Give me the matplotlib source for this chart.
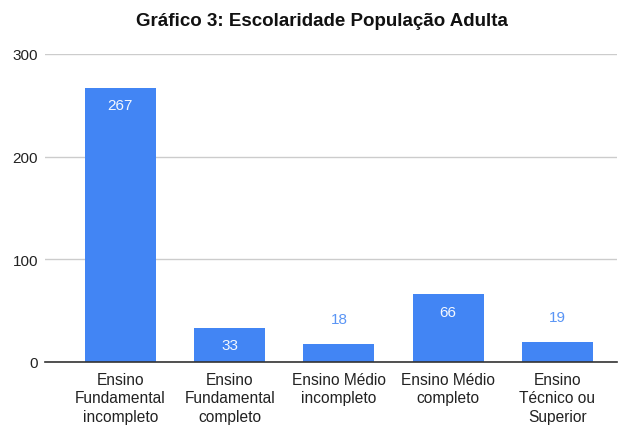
import matplotlib.pyplot as plt
import numpy as np

plt.rcParams['font.family'] = ['Liberation Sans', 'DejaVu Sans']

categorias = ['Ensino\nFundamental\nincompleto', 'Ensino\nFundamental\ncompleto',
              'Ensino Médio\nincompleto', 'Ensino Médio\ncompleto',
              'Ensino\nTécnico ou\nSuperior']
valores = [267, 33, 18, 66, 19]
yticks = [0, 100, 200, 300]

azul = '#4285f4'

fig = plt.figure(figsize=(6.18, 4.27), dpi=100)
ax = fig.add_axes([45 / 618, 1 - 363 / 427, 572 / 618, 308 / 427])

xs = np.arange(len(valores))
bars = ax.bar(xs, valores, 0.65, color=azul, zorder=3)

# rotulos: dentro da barra quando cabe, senao em cima
for b, v in zip(bars, valores):
    cx = b.get_x() + b.get_width() / 2
    if v >= 30:
        ax.annotate(str(v), (cx, v), xytext=(0, -12.5), textcoords='offset points',
                    ha='center', va='center', color='#f4f8fe', fontsize=11, zorder=4)
    else:
        ax.annotate(str(v), (cx, v), xytext=(0, 18), textcoords='offset points',
                    ha='center', va='center', color='#5a95f5', fontsize=11, zorder=4)

ax.set_xlim(-0.69, 4.545)
ax.set_ylim(0, 300)
ax.set_yticks(yticks)
ax.set_yticklabels([str(t) for t in yticks], color='#222222', fontsize=11)
ax.set_xticks(xs)
ax.set_xticklabels(categorias, color='#222222', fontsize=11.2, linespacing=1.3)
ax.tick_params(length=0)
ax.tick_params(axis='x', pad=7)
ax.tick_params(axis='y', pad=5)

ax.grid(axis='y', color='#cccccc', linewidth=1, zorder=0)
for s in ['top', 'right', 'left']:
    ax.spines[s].set_visible(False)
ax.spines['bottom'].set_color('#333333')
ax.spines['bottom'].set_linewidth(1.2)
ax.spines['bottom'].set_zorder(5)

fig.text(321.5 / 618, 1 - 21 / 427, 'Gráfico 3: Escolaridade População Adulta',
         ha='center', va='center', fontsize=13.5, fontweight='bold', color='#111111')

fig.savefig('out.png', dpi=100)
